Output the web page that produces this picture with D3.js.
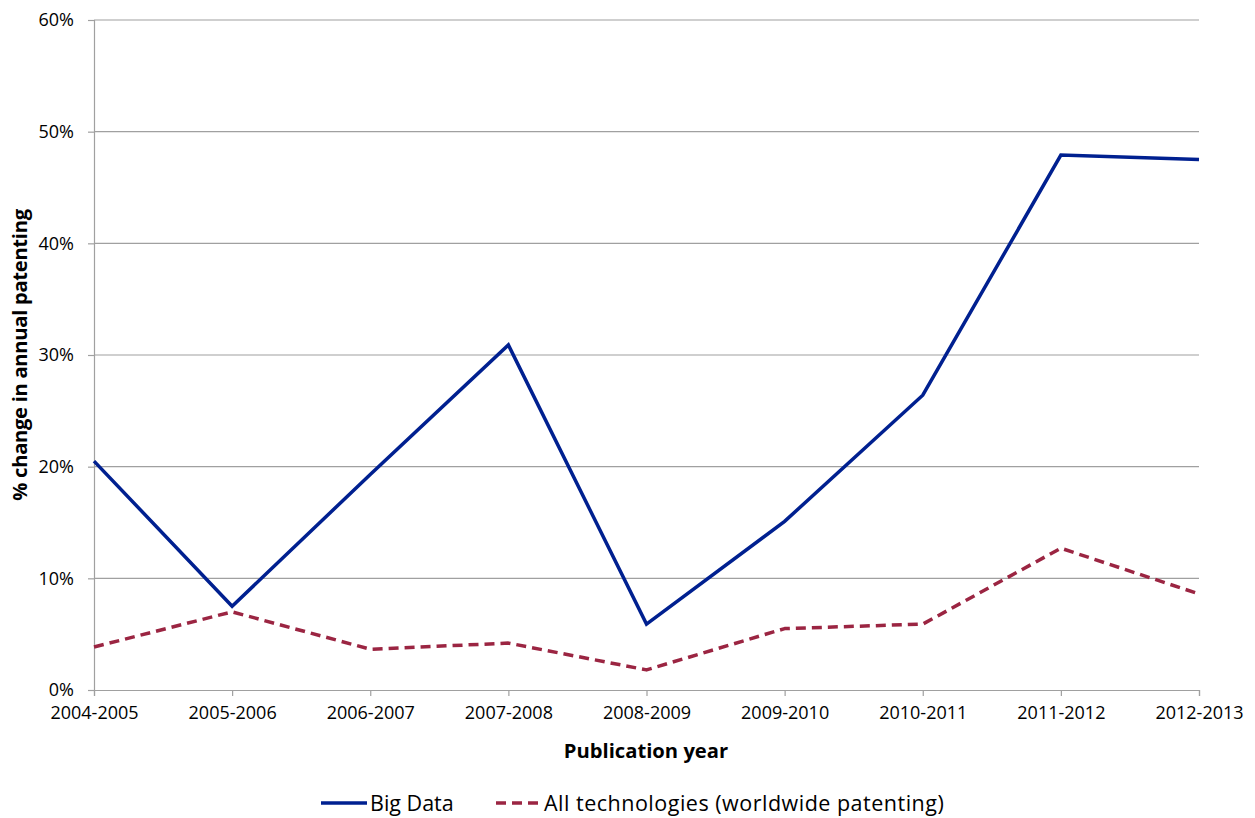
<!DOCTYPE html>
<html>
<head>
<meta charset="utf-8">
<script src="https://cdn.jsdelivr.net/npm/d3@7"></script>
<style>
  html, body { margin: 0; padding: 0; background: #fff; }
  svg { display: block; font-family: "Open Sans", Lato, sans-serif; }
</style>
</head>
<body>
<svg id="chart" width="1255" height="818"></svg>
<script>
// Annual patenting growth, by publication year pair
const periods = ["2004-2005", "2005-2006", "2006-2007", "2007-2008", "2008-2009",
                 "2009-2010", "2010-2011", "2011-2012", "2012-2013"];
const bigData = [20.5, 7.5, 19.3, 30.9, 5.9, 15.1, 26.4, 47.9, 47.5];
const allTech = [3.85, 7.0, 3.65, 4.2, 1.8, 5.5, 5.9, 12.7, 8.6];
const yTicks = [0, 10, 20, 30, 40, 50, 60];
const seriesNames = ["Big Data", "All technologies (worldwide patenting)"];

const svg = d3.select("#chart");
const plotL = 94, plotR = 1199, plotT = 20, plotB = 690;
const font = "'Open Sans', Lato, sans-serif";

const x = d3.scalePoint().domain(periods).range([plotL, plotR]);
const y = d3.scaleLinear().domain([0, 60]).range([plotB, plotT]);

// horizontal gridlines
svg.append("g")
  .selectAll("line")
  .data(yTicks.filter(d => d > 0))
  .join("line")
  .attr("x1", plotL).attr("x2", plotR)
  .attr("y1", d => y(d)).attr("y2", d => y(d))
  .attr("stroke", "#a0a0a0").attr("stroke-width", 1.2);

// y axis
const yAxis = svg.append("g")
  .attr("transform", `translate(${plotL},0)`)
  .call(d3.axisLeft(y).tickValues(yTicks).tickFormat(d => d + "%").tickSize(6).tickPadding(14));
yAxis.select(".domain").attr("stroke", "#a0a0a0").attr("stroke-width", 1.2);
yAxis.selectAll(".tick line").attr("stroke", "#a0a0a0").attr("stroke-width", 1.2);
yAxis.selectAll(".tick text").attr("font-size", 18).attr("fill", "#000")
  .attr("font-family", font);

// x axis
const xAxis = svg.append("g")
  .attr("transform", `translate(0,${plotB})`)
  .call(d3.axisBottom(x).tickSize(6).tickPadding(10));
xAxis.select(".domain").attr("stroke", "#a0a0a0").attr("stroke-width", 1.2);
xAxis.selectAll(".tick line").attr("stroke", "#a0a0a0").attr("stroke-width", 1.2);
xAxis.selectAll(".tick text").attr("font-size", 18).attr("fill", "#000")
  .attr("font-family", font);

// axis titles
svg.append("text")
  .attr("x", 646).attr("y", 758)
  .attr("text-anchor", "middle")
  .attr("font-size", 20.2).attr("font-weight", "bold")
  .text("Publication year");

svg.append("text")
  .attr("transform", "translate(27,355) rotate(-90)")
  .attr("text-anchor", "middle")
  .attr("font-size", 20.2).attr("font-weight", "bold")
  .attr("letter-spacing", -0.3)
  .text("% change in annual patenting");

// series lines
const line = d3.line().x((d, i) => x(periods[i])).y(d => y(d));

svg.append("path")
  .datum(allTech)
  .attr("d", line)
  .attr("fill", "none")
  .attr("stroke", "#9b2542")
  .attr("stroke-width", 3.5)
  .attr("stroke-dasharray", "10,6")
  .attr("stroke-linejoin", "round");

svg.append("path")
  .datum(bigData)
  .attr("d", line)
  .attr("fill", "none")
  .attr("stroke", "#002090")
  .attr("stroke-width", 3.5)
  .attr("stroke-linejoin", "miter");

// legend
const legend = svg.append("g").attr("transform", "translate(0,803)");
legend.append("line")
  .attr("x1", 321).attr("x2", 367).attr("y1", 0).attr("y2", 0)
  .attr("stroke", "#002090").attr("stroke-width", 3.5);
legend.append("text")
  .attr("x", 370).attr("y", 8).attr("font-size", 21.5)
  .text(seriesNames[0]);
legend.append("line")
  .attr("x1", 496).attr("x2", 540).attr("y1", 0).attr("y2", 0)
  .attr("stroke", "#9b2542").attr("stroke-width", 3.5)
  .attr("stroke-dasharray", "10,6");
legend.append("text")
  .attr("x", 544).attr("y", 8).attr("font-size", 21.5)
  .attr("letter-spacing", 0.5)
  .text(seriesNames[1]);
</script>
</body>
</html>
